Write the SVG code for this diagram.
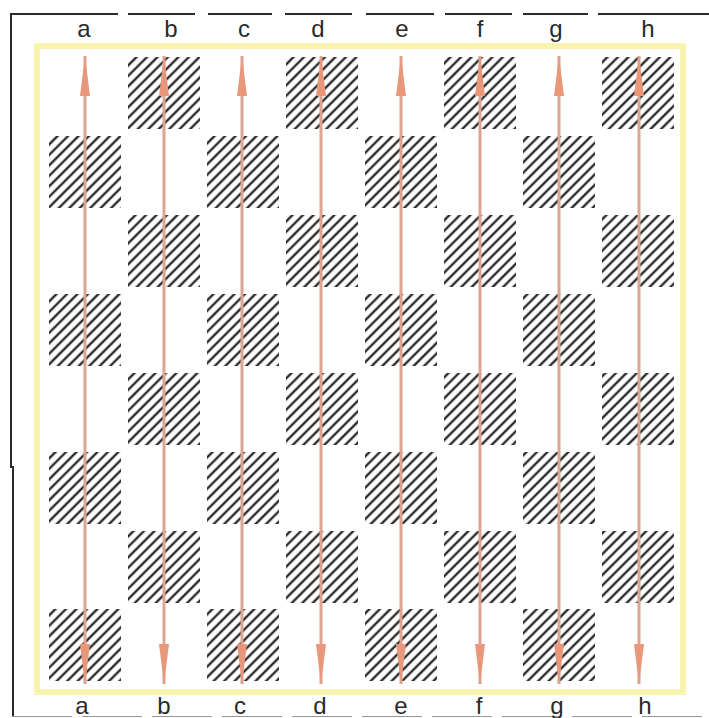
<svg xmlns="http://www.w3.org/2000/svg" width="709" height="718" viewBox="0 0 709 718">
  <style>
    .lbl { font-family: "Liberation Sans", Arial, sans-serif; font-size: 24px; fill: #2a2a2a; text-anchor: middle; }
    .frame { stroke: #2b2b2b; stroke-width: 2; fill: none; }
    .hatch { fill: url(#hatch); }
    .arrow { stroke: #dca493; stroke-width: 3; fill: none; marker-start: url(#head); marker-end: url(#head); }
  </style>
  <defs>
    <pattern id="hatch" patternUnits="userSpaceOnUse" width="10" height="7.4" patternTransform="rotate(-45)">
      <line x1="0" y1="3.7" x2="10" y2="3.7" stroke="#2a2a2a" stroke-width="2.4"/>
    </pattern>
    <marker id="head" markerUnits="userSpaceOnUse" viewBox="0 0 40 12" refX="40" refY="6" markerWidth="40" markerHeight="12" orient="auto-start-reverse">
      <path d="M0,1 L40,6 L0,11 Z" fill="#e8977b"/>
    </marker>
  </defs>
  <rect width="709" height="718" fill="#ffffff"/>

  <g id="outer-frame" class="frame">
    <line x1="11" y1="14" x2="11" y2="468"/>
    <line x1="13" y1="466" x2="13" y2="716"/>
    <line x1="10" y1="14" x2="118" y2="14"/>
    <line x1="128" y1="14" x2="195" y2="14"/>
    <line x1="208" y1="14" x2="272" y2="14"/>
    <line x1="285" y1="14" x2="352" y2="14"/>
    <line x1="366" y1="14" x2="434" y2="14"/>
    <line x1="445" y1="14" x2="512" y2="14"/>
    <line x1="523" y1="14" x2="588" y2="14"/>
    <line x1="598" y1="14" x2="709" y2="14"/>
    <line x1="12" y1="716.5" x2="709" y2="716.5" stroke="#999" stroke-width="1.2" stroke-dasharray="60 10"/>
  </g>

  <g id="board">
    <rect x="37" y="46" width="646" height="646" fill="#ffffff" stroke="#f8f4b0" stroke-width="6"/>
  </g>

  <g id="dark-squares" class="hatch">
    <rect x="128" y="57" width="72" height="72"/>
    <rect x="286" y="57" width="72" height="72"/>
    <rect x="444" y="57" width="72" height="72"/>
    <rect x="602" y="57" width="72" height="72"/>
    <rect x="49" y="136" width="72" height="72"/>
    <rect x="207" y="136" width="72" height="72"/>
    <rect x="365" y="136" width="72" height="72"/>
    <rect x="523" y="136" width="72" height="72"/>
    <rect x="128" y="215" width="72" height="72"/>
    <rect x="286" y="215" width="72" height="72"/>
    <rect x="444" y="215" width="72" height="72"/>
    <rect x="602" y="215" width="72" height="72"/>
    <rect x="49" y="294" width="72" height="72"/>
    <rect x="207" y="294" width="72" height="72"/>
    <rect x="365" y="294" width="72" height="72"/>
    <rect x="523" y="294" width="72" height="72"/>
    <rect x="128" y="373" width="72" height="72"/>
    <rect x="286" y="373" width="72" height="72"/>
    <rect x="444" y="373" width="72" height="72"/>
    <rect x="602" y="373" width="72" height="72"/>
    <rect x="49" y="452" width="72" height="72"/>
    <rect x="207" y="452" width="72" height="72"/>
    <rect x="365" y="452" width="72" height="72"/>
    <rect x="523" y="452" width="72" height="72"/>
    <rect x="128" y="531" width="72" height="72"/>
    <rect x="286" y="531" width="72" height="72"/>
    <rect x="444" y="531" width="72" height="72"/>
    <rect x="602" y="531" width="72" height="72"/>
    <rect x="49" y="609" width="72" height="72"/>
    <rect x="207" y="609" width="72" height="72"/>
    <rect x="365" y="609" width="72" height="72"/>
    <rect x="523" y="609" width="72" height="72"/>
  </g>

  <g id="connectors" class="arrow">
    <line x1="85" y1="684" x2="85" y2="56"/>
    <line x1="164" y1="684" x2="164" y2="56"/>
    <line x1="242" y1="684" x2="242" y2="56"/>
    <line x1="321" y1="684" x2="321" y2="56"/>
    <line x1="401" y1="684" x2="401" y2="56"/>
    <line x1="480" y1="684" x2="480" y2="56"/>
    <line x1="559" y1="684" x2="559" y2="56"/>
    <line x1="639" y1="684" x2="639" y2="56"/>
  </g>

  <g id="labels-top" class="lbl">
    <text x="84" y="37">a</text>
    <text x="171" y="37">b</text>
    <text x="244" y="37">c</text>
    <text x="318" y="37">d</text>
    <text x="402" y="37">e</text>
    <text x="480" y="37">f</text>
    <text x="556" y="37">g</text>
    <text x="648" y="37">h</text>
  </g>
  <g id="labels-bottom" class="lbl">
    <text x="82" y="714">a</text>
    <text x="164" y="714">b</text>
    <text x="240" y="714">c</text>
    <text x="320" y="714">d</text>
    <text x="401" y="714">e</text>
    <text x="479" y="714">f</text>
    <text x="557" y="714">g</text>
    <text x="645" y="714">h</text>
  </g>
</svg>
